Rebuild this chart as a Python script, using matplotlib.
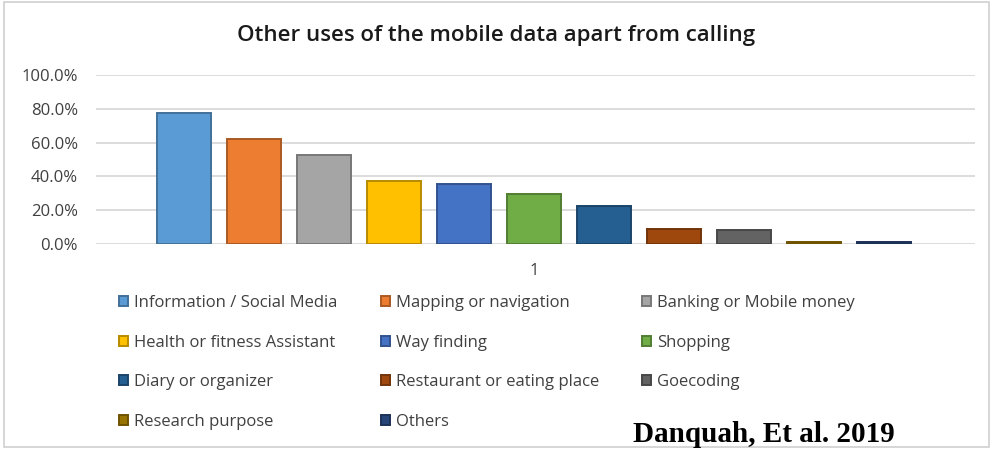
import matplotlib.pyplot as plt
from matplotlib.patches import Rectangle
from matplotlib.ticker import PercentFormatter
import matplotlib.colors as mcolors

plt.rcParams['font.family'] = ['Open Sans', 'DejaVu Sans']

# ====== data ======
categories = ['Information / Social Media', 'Mapping or navigation', 'Banking or Mobile money',
              'Health or fitness Assistant', 'Way finding', 'Shopping',
              'Diary or organizer', 'Restaurant or eating place', 'Goecoding',
              'Research purpose', 'Others']
values = [77.5, 62.0, 52.7, 37.3, 35.5, 29.6, 22.7, 9.1, 8.5, 1.2, 1.0]
colors = ['#5B9BD5', '#ED7D31', '#A5A5A5', '#FFC000', '#4472C4', '#70AD47',
          '#255E91', '#9E480E', '#636363', '#997300', '#264478']
group_label = '1'

# ====== figure ======
fig = plt.figure(figsize=(9.93, 4.49), dpi=100)
ax = fig.add_axes([96 / 993, 1 - 244 / 449, (975 - 96) / 993, (244 - 75) / 449])

def darker(c, f=0.72):
    r, g, b = mcolors.to_rgb(c)
    return (r * f, g * f, b * f)

bars = []
for i, (cat, v, c) in enumerate(zip(categories, values, colors)):
    b = ax.bar(i, v, width=0.78, color=c, edgecolor=darker(c), linewidth=1.4,
               label=cat, zorder=3)
    bars.append(b)

ax.set_xlim(-1.26, 11.3)
ax.set_ylim(0, 100)
ax.set_yticks([0, 20, 40, 60, 80, 100])
ax.yaxis.set_major_formatter(PercentFormatter(decimals=1))
ax.set_xticks([5])
ax.set_xticklabels([group_label])
ax.tick_params(axis='both', length=0, labelsize=12, labelcolor='#404040')
ax.tick_params(axis='y', pad=13)
ax.tick_params(axis='x', pad=14)

ax.grid(axis='y', color='#D9D9D9', linewidth=1.3, zorder=0)
for s in ax.spines.values():
    s.set_visible(False)

fig.text(0.5, 1 - 35 / 449, 'Other uses of the mobile data apart from calling',
         ha='center', va='center', fontsize=16, fontweight='semibold', color='#1a1a1a')

# legend filled row by row
order = [0, 3, 6, 9, 1, 4, 7, 10, 2, 5, 8]
leg = fig.legend([bars[i] for i in order], [categories[i] for i in order],
                 ncol=3, loc='upper left', bbox_to_anchor=(119 / 993, 1 - 295 / 449),
                 frameon=False, fontsize=12, handlelength=0.55, handleheight=0.55,
                 handletextpad=0.35, labelspacing=1.42, columnspacing=2.6,
                 borderpad=0, borderaxespad=0)
for t in leg.get_texts():
    t.set_color('#404040')

# chart border
fig.patches.append(Rectangle((4 / 993, 2 / 449), 985 / 993, 445 / 449,
                             transform=fig.transFigure, fill=False,
                             edgecolor='#D0D0D0', linewidth=1.2))

fig.text(633 / 993, 1 / 449, 'Danquah, Et al. 2019', ha='left', va='bottom',
         fontsize=21, fontweight='bold', family='Liberation Serif', color='black')

plt.savefig('out.png', dpi=100)
